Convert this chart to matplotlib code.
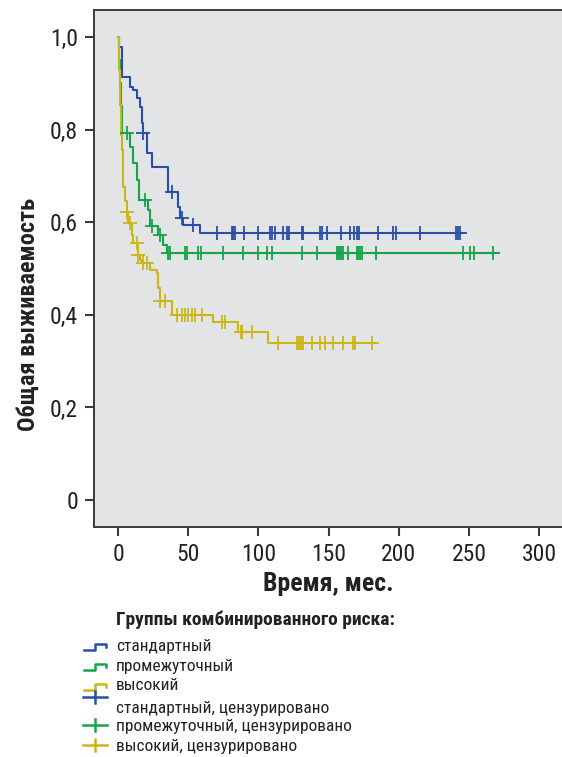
import numpy as np
import matplotlib
matplotlib.use('Agg')
import matplotlib.pyplot as plt
from matplotlib.lines import Line2D
from matplotlib import font_manager

# pick the narrowest installed family we know of
names = set(f.name for f in font_manager.fontManager.ttflist)
fams = [f for f in ['Roboto Condensed', 'Liberation Sans Narrow', 'DejaVu Sans Condensed', 'Liberation Sans'] if f in names]
plt.rcParams['font.family'] = fams + ['DejaVu Sans']

# survival steps (time in months, survival)
blue_t = [0, 1, 3, 8.5, 10.7, 13.5, 15.7, 17, 17.5, 20.7, 24.2, 35.6, 42.7, 44.2, 46.3, 58.4]
blue_s = [1.0, 0.978, 0.914, 0.892, 0.886, 0.868, 0.849, 0.814, 0.793, 0.750, 0.720, 0.666, 0.633, 0.609, 0.594, 0.577]
blue_end = 244.7
blue_cens = [18.0, 38.2, 45.4, 53.6, 70.3, 81.2, 82.1, 83.0, 89.7, 99.9, 108.3, 109.7, 111.8, 117.7,
	120.2, 122.0, 131.3, 132.1, 143.9, 145.3, 149.1, 158.8, 165.2, 168.1, 170.4, 171.9, 185.0,
	196.1, 197.8, 215.1, 240.7, 242.2, 243.6]

green_t = [0, 0.7, 1.4, 2.1, 2.8, 8.5, 10.9, 13.3, 14.6, 21.4, 22.8, 28.7, 32.1, 34.7]
green_s = [1.0, 0.95, 0.90, 0.85, 0.793, 0.763, 0.728, 0.691, 0.648, 0.627, 0.591, 0.573, 0.551, 0.533]
green_end = 270.9
green_cens = [6.2, 19.2, 24.0, 29.9, 35.5, 37.0, 47.7, 48.9, 57.2, 58.9, 75.0, 88.8, 99.9, 105.9,
	109.5, 131.3, 141.5, 155.8, 156.7, 157.8, 158.8, 160.3, 164.0, 170.0, 170.9, 172.0, 173.6,
	183.8, 245.5, 250.7, 253.6, 267.3]

yellow_t = [0, 0.4, 0.7, 1.1, 1.4, 1.8, 2.1, 2.6, 3.2, 3.8, 5.0, 6.2, 7.3, 9.8, 10.9, 14.2, 15.7,
	16.9, 22.8, 27.6, 28.7, 29.6, 38.2, 67.9, 85.7, 107.0]
yellow_s = [1.0, 0.972, 0.929, 0.886, 0.853, 0.821, 0.789, 0.756, 0.724, 0.677, 0.645, 0.622,
	0.598, 0.573, 0.555, 0.530, 0.519, 0.512, 0.497, 0.490, 0.458, 0.429, 0.400, 0.384, 0.364, 0.339]
yellow_end = 183.0
yellow_cens = [6.4, 8.5, 13.3, 14.5, 18.0, 20.4, 30.0, 33.5, 41.8, 45.4, 47.7, 50.1, 52.5, 54.8,
	59.6, 73.9, 76.2, 87.4, 88.3, 95.2, 113.7, 127.3, 128.6, 129.6, 130.8, 132.0, 138.0, 143.9,
	147.4, 153.3, 160.0, 167.2, 168.8, 180.7]

group_names = ['стандартный', 'промежуточный', 'высокий']
colors = ['#2a4ea6', '#18a24a', '#cbb61a']

x_ticks = [0, 50, 100, 150, 200, 250, 300]
y_ticks = [0, 0.2, 0.4, 0.6, 0.8, 1.0]
y_labels = ['0', '0,2', '0,4', '0,6', '0,8', '1,0']

W, H = 562, 757


def px(x, y):
	return x / W, 1 - y / H


def drawCurve(ax, t, s, end, cens, color):
	t = np.array(t)
	s = np.array(s)
	ax.step(np.append(t, end), np.append(s, s[-1]), where='post', color=color, lw=1.5, zorder=3)
	c = np.array(cens)
	cy = s[np.searchsorted(t, c, side='right') - 1]
	ax.plot(c, cy, ls='none', marker='+', ms=10, mew=1.3, color=color, zorder=4)


def drawLegend(fig):
	fig.text(*px(116, 620), 'Группы комбинированного риска:', fontsize=14, fontweight='bold',
		va='center', ha='left', color='#222222')
	for i in range(3):
		y = 646 + 20 * i
		xs = [84, 95, 95, 106, 106]
		ys = [y + 3.5, y + 3.5, y - 2.5, y - 2.5, y + 1]
		pts = [px(a, b) for a, b in zip(xs, ys)]
		fig.add_artist(Line2D([p[0] for p in pts], [p[1] for p in pts], color=colors[i], lw=1.8,
			transform=fig.transFigure))
		fig.text(*px(116, y), group_names[i], fontsize=12.5, va='center', ha='left', color='#222222')
	plus_y = [697, 725, 745]
	text_y = [708, 727, 747]
	for i in range(3):
		a = px(83, plus_y[i])
		b = px(107, plus_y[i])
		c = px(95, plus_y[i] - 6)
		d = px(95, plus_y[i] + 6)
		fig.add_artist(Line2D([a[0], b[0]], [a[1], b[1]], color=colors[i], lw=1.8, transform=fig.transFigure))
		fig.add_artist(Line2D([c[0], d[0]], [c[1], d[1]], color=colors[i], lw=1.8, transform=fig.transFigure))
		fig.text(*px(116, text_y[i]), group_names[i] + ', цензурировано', fontsize=12.5, va='center',
			ha='left', color='#222222')


def main():
	fig = plt.figure(figsize=(W / 100, H / 100), dpi=100)
	ax = fig.add_axes([94 / W, 1 - 527 / H, 468 / W, 517 / H])
	ax.set_facecolor('#e2e4e6')

	drawCurve(ax, blue_t, blue_s, blue_end, blue_cens, colors[0])
	drawCurve(ax, green_t, green_s, green_end, green_cens, colors[1])
	drawCurve(ax, yellow_t, yellow_s, yellow_end, yellow_cens, colors[2])

	ax.set_xlim(-17.1, 316.2)
	ax.set_ylim(-0.058, 1.058)
	ax.set_xticks(x_ticks)
	ax.set_yticks(y_ticks)
	ax.set_yticklabels(y_labels)
	ax.spines['right'].set_visible(False)
	for sp in ['left', 'top', 'bottom']:
		ax.spines[sp].set_color('#3a3a3a')
		ax.spines[sp].set_linewidth(1.4)
	ax.tick_params(axis='both', direction='out', length=6.5, width=1.5, color='#3a3a3a',
		labelsize=17, labelcolor='#222222')
	ax.tick_params(axis='x', pad=5)
	ax.tick_params(axis='y', pad=5)

	ax.set_xlabel('Время, мес.', fontsize=18.5, fontweight='bold', color='#222222', labelpad=4)
	fig.text(*px(28, 314), 'Общая выживаемость', rotation=90, fontsize=17.5, fontweight='bold',
		va='center', ha='center', color='#222222')

	drawLegend(fig)
	fig.savefig('out.png', dpi=100, facecolor='white')


if __name__ == '__main__':
	main()
